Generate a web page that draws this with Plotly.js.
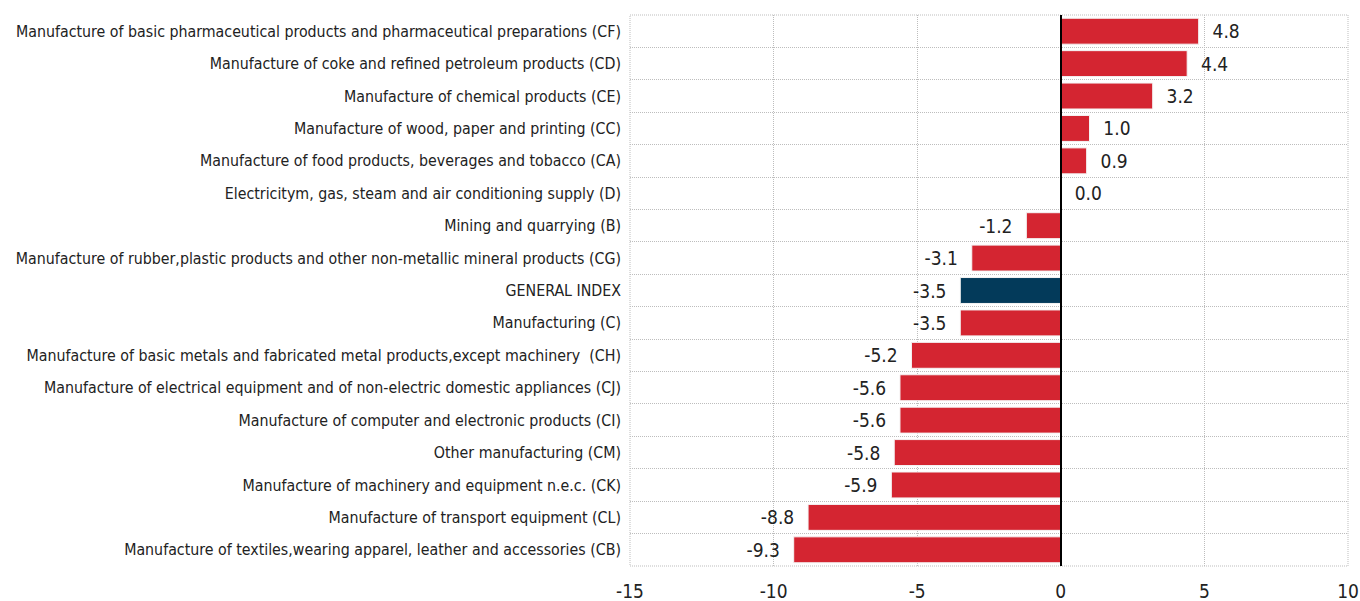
<!DOCTYPE html>
<html><head><meta charset="utf-8">
<script src="https://cdn.plot.ly/plotly-3.0.1.min.js"></script>
<style>body{margin:0;background:#fff}#chart{width:1360px;height:601px}</style>
</head><body><div id="chart"></div>
<script>
const categories = [
  "Manufacture of basic pharmaceutical products and pharmaceutical preparations (CF)",
  "Manufacture of coke and refined petroleum products (CD)",
  "Manufacture of chemical products (CE)",
  "Manufacture of wood, paper and printing (CC)",
  "Manufacture of food products, beverages and tobacco (CA)",
  "Electricitym, gas, steam and air conditioning supply (D)",
  "Mining and quarrying (B)",
  "Manufacture of rubber,plastic products and other non-metallic mineral products (CG)",
  "GENERAL INDEX",
  "Manufacturing (C)",
  "Manufacture of basic metals and fabricated metal products,except machinery  (CH)",
  "Manufacture of electrical equipment and of non-electric domestic appliances (CJ)",
  "Manufacture of computer and electronic products (CI)",
  "Other manufacturing (CM)",
  "Manufacture of machinery and equipment n.e.c. (CK)",
  "Manufacture of transport equipment (CL)",
  "Manufacture of textiles,wearing apparel, leather and accessories (CB)"
];
const values = [4.8, 4.4, 3.2, 1.0, 0.9, 0.0, -1.2, -3.1, -3.5, -3.5, -5.2, -5.6, -5.6, -5.8, -5.9, -8.8, -9.3];
const highlight = "GENERAL INDEX";
const xTicks = [-15, -10, -5, 0, 5, 10];

const RED = "#d42531", NAVY = "#033a5a";
const FONT = "'Liberation Sans Narrow', 'Arial Narrow', 'DejaVu Sans Condensed', sans-serif";
const GRID = "#bdbdbd", DOT = "1px,1px";
const idx = categories.map((c, i) => i);
const boundaries = [];
for (let i = 0; i <= categories.length; i++) boundaries.push(i - 0.5);
const pad = "\u00a0\u00a0";
const xRange = [-15, 10];
const yRange = [categories.length - 0.5, -0.5];

const bars = {
  type: "bar", orientation: "h",
  x: values, y: idx,
  marker: {color: categories.map(c => c === highlight ? NAVY : RED), line: {color: "#f4f4f4", width: 1}},
  width: 0.8,
  text: values.map(v => v < 0 ? v.toFixed(1) + pad : pad + v.toFixed(1)),
  textposition: "outside", cliponaxis: false,
  textfont: {family: FONT, size: 19, color: "#222"},
  hoverinfo: "x+y", showlegend: false
};
const gridTrace = {type: "scatter", x: [null], y: [null], xaxis: "x2", yaxis: "y2", showlegend: false, hoverinfo: "skip"};

const layout = {
  width: 1360, height: 601,
  margin: {l: 630, r: 12, t: 15, b: 35},
  paper_bgcolor: "#fff", plot_bgcolor: "#fff",
  font: {family: FONT, color: "#222"},
  xaxis: {
    range: xRange, tickvals: xTicks, ticktext: xTicks.map(String),
    showgrid: false,
    zeroline: true, zerolinecolor: "#000", zerolinewidth: 2,
    zerolinelayer: "above traces",
    showline: false, ticks: "", ticklen: 0, ticklabelstandoff: 12,
    tickfont: {family: FONT, size: 19, color: "#222"}, automargin: false
  },
  xaxis2: {
    overlaying: "x", range: xRange, tickvals: xTicks.filter(t => t !== 0), showticklabels: false,
    showgrid: true, gridcolor: GRID, griddash: DOT, gridwidth: 1,
    zeroline: false, showline: false, ticks: ""
  },
  yaxis: {
    range: yRange,
    tickvals: idx, ticktext: categories,
    showgrid: false, zeroline: false, showline: false, ticks: "",
    tickfont: {family: FONT, size: 15.8, color: "#222"}, automargin: false, ticklabelstandoff: 8
  },
  yaxis2: {
    overlaying: "y", range: yRange,
    tickvals: boundaries, showticklabels: false,
    showgrid: true, gridcolor: GRID, griddash: DOT, gridwidth: 1,
    zeroline: false, showline: false, ticks: ""
  },
  shapes: [{
    type: "rect", xref: "paper", yref: "paper", x0: 0, x1: 1, y0: 0, y1: 1,
    line: {color: GRID, width: 1, dash: DOT}, layer: "below"
  }]
};
Plotly.newPlot("chart", [gridTrace, bars], layout, {staticPlot: true});
</script></body></html>
